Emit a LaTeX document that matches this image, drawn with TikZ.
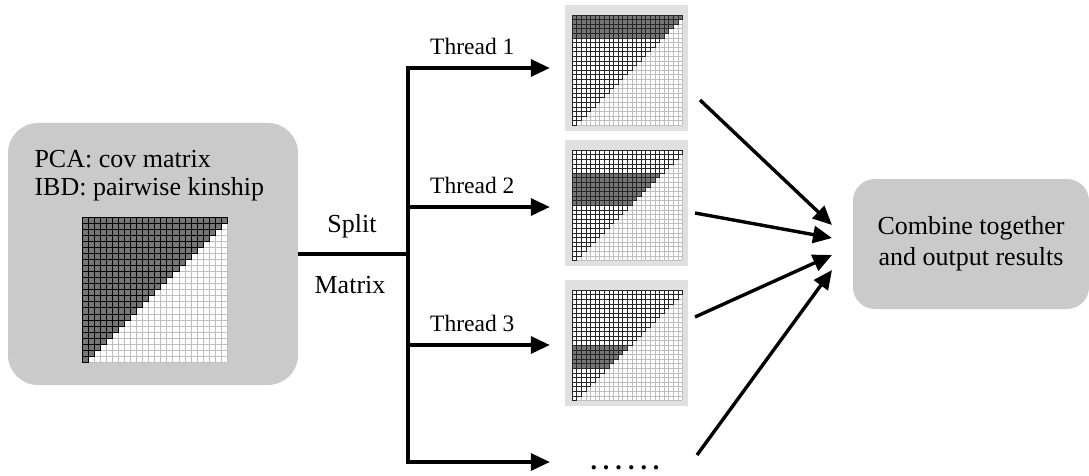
\documentclass[tikz,border=0pt]{standalone}
\usepackage{fontspec}
\setmainfont{Liberation Serif}
\usetikzlibrary{arrows.meta}

\definecolor{panelgray}{HTML}{CACACA}
\definecolor{matbg}{HTML}{E0E0E0}
\definecolor{cellgray}{HTML}{767676}
\definecolor{gridgray}{HTML}{BEBEBE}

\tikzset{
  panel/.style={fill=panelgray, rounded corners=30pt, inner sep=0pt},
  matbox/.style={fill=matbg, minimum width=123pt, minimum height=126pt, inner sep=0pt},
  txt/.style={font=\fontsize{26}{31}\selectfont},
  thread/.style={font=\fontsize{23.5}{27}\selectfont},
  trunk/.style={line width=3.4pt},
  flow/.style={line width=3.4pt, -{Triangle[length=19pt,width=17pt]}},
  lightgrid/.style={draw=gridgray, line width=0.6pt},
  darkcell/.style={fill=cellgray, draw=black, line width=0.6pt},
  topcell/.style={draw=black!85, line width=0.6pt},
}

\begin{document}
\begin{tikzpicture}[x=1pt,y=-1pt]
\useasboundingbox (0,0) rectangle (1089,476);

% input box
\node[panel, minimum width=290pt, minimum height=262pt] (src) at (153,254) {};
\node[txt, anchor=base west] (pca) at (31,167) {PCA: cov matrix};
\node[txt, anchor=base west] (ibd) at (31,195) {IBD: pairwise kinship};

\begin{scope}[shift={(82,217)}, x=6.05pt, y=-6.05pt]
\fill[white] (0,0) rectangle (24,24);
\foreach \k in {0,...,24} {
  \draw[lightgrid] (\k,0) -- (\k,24);
  \draw[lightgrid] (0,\k) -- (24,\k);
}
\foreach \i in {0,...,23} {
  \pgfmathtruncatemacro\last{23-\i}
  \foreach \j in {0,...,\last}
    \draw[darkcell] (\j,\i) rectangle ++(1,1);
}
\end{scope}

% split
\coordinate (fork) at (408,254);
\coordinate (b1) at (408,68);
\coordinate (b2) at (408,207);
\coordinate (b3) at (408,345);
\coordinate (b4) at (408,462);
\draw[trunk] (src.east) -- (fork);
\draw[trunk, line cap=rect] (b1) -- (b4);
\node[txt, anchor=base] (splitlbl) at (352,232) {Split};
\node[txt, anchor=base] (matlbl) at (350,293) {Matrix};

% blocks per thread
\foreach \top/\from/\to/\nm in {15/0/4/m1, 150/5/11/m2, 290/12/16/m3} {
  \node[matbox] (\nm) at (626.5,\top+53) {};
  \begin{scope}[shift={(572,\top)}, x=4.6pt, y=-4.6pt]
  \fill[white] (0,0) rectangle (24,24);
  \foreach \k in {0,...,24} {
    \draw[lightgrid] (\k,0) -- (\k,24);
    \draw[lightgrid] (0,\k) -- (24,\k);
  }
  \foreach \i in {\from,...,\to} {
    \pgfmathtruncatemacro\last{24-\i}
    \fill[cellgray] (0,\i) rectangle (\last,\i+1);
  }
  \foreach \i in {0,...,23} {
    \pgfmathtruncatemacro\last{23-\i}
    \foreach \j in {0,...,\last}
      \draw[topcell] (\j,\i) rectangle ++(1,1);
  }
  \end{scope}
}
\node[txt, font=\fontsize{26}{31}\selectfont\bfseries, anchor=base, inner sep=0pt] (more) at (625,469) {.\kern6pt.\kern6pt.\kern6pt.\kern6pt.\kern6pt.};

\draw[flow, shorten >=15pt] (b1) -- node[thread, above=8pt, pos=0.41] {Thread 1} (b1 -| m1.west);
\draw[flow, shorten >=15pt] (b2) -- node[thread, above=8pt, pos=0.41] {Thread 2} (b2 -| m2.west);
\draw[flow, shorten >=15pt] (b3) -- node[thread, above=8pt, pos=0.41] {Thread 3} (b3 -| m3.west);
\draw[flow, shorten >=15pt] (b4) -- (b4 -| m3.west);

% combine
\node[panel, rounded corners=22pt, minimum width=236pt, minimum height=130pt, txt, align=center] (comb) at (971,244) {Combine together\\and output results};

\coordinate (o1) at (700,100);
\coordinate (o2) at (695,213);
\coordinate (o3) at (695,317);
\coordinate (o4) at (697,455);
\coordinate (c1) at (832,225);
\coordinate (c2) at (832,238);
\coordinate (c3) at (832,255);
\coordinate (c4) at (832,270);
\foreach \n in {1,2,3,4}
  \draw[flow] (o\n) -- (c\n);
\end{tikzpicture}
\end{document}
